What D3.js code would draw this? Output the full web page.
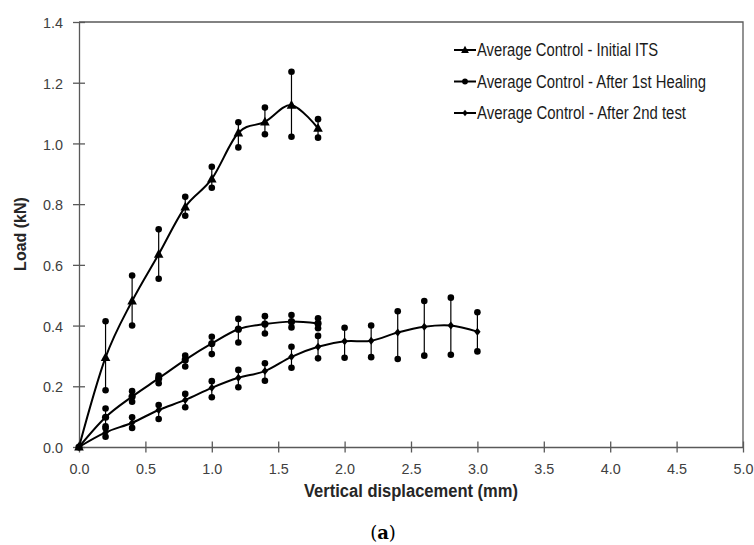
<!DOCTYPE html>
<html>
<head>
<meta charset="utf-8">
<script src="https://cdn.jsdelivr.net/npm/d3@7"></script>
<style>
  html, body { margin: 0; padding: 0; background: #fff; }
  svg { display: block; }
</style>
</head>
<body>
<svg id="chart" width="754" height="545"></svg>
<script>
// ---------- data ----------
const xTicks = [0, 0.5, 1.0, 1.5, 2.0, 2.5, 3.0, 3.5, 4.0, 4.5, 5.0];
const yTicks = [0, 0.2, 0.4, 0.6, 0.8, 1.0, 1.2, 1.4];

const dispShort = [0, 0.2, 0.4, 0.6, 0.8, 1.0, 1.2, 1.4, 1.6, 1.8];
const dispLong  = [0, 0.2, 0.4, 0.6, 0.8, 1.0, 1.2, 1.4, 1.6, 1.8, 2.0, 2.2, 2.4, 2.6, 2.8, 3.0];

const initialMean  = [0, 0.295, 0.481, 0.635, 0.791, 0.883, 1.035, 1.071, 1.126, 1.050];
const initialUpper = [0, 0.414, 0.565, 0.717, 0.824, 0.923, 1.070, 1.118, 1.236, 1.080];
const initialLower = [0, 0.187, 0.400, 0.554, 0.762, 0.854, 0.987, 1.030, 1.022, 1.019];

const healingMean  = [0, 0.098, 0.166, 0.226, 0.287, 0.341, 0.388, 0.405, 0.413, 0.407];
const healingUpper = [0, 0.127, 0.184, 0.235, 0.301, 0.363, 0.422, 0.431, 0.435, 0.424];
const healingLower = [0, 0.068, 0.149, 0.210, 0.265, 0.306, 0.344, 0.374, 0.394, 0.391];

const secondMean  = [0, 0.048, 0.080, 0.122, 0.155, 0.195, 0.228, 0.250, 0.297, 0.330, 0.348, 0.350, 0.377, 0.396, 0.400, 0.380];
const secondUpper = [0, 0.062, 0.098, 0.138, 0.175, 0.217, 0.254, 0.276, 0.330, 0.366, 0.393, 0.400, 0.447, 0.481, 0.492, 0.444];
const secondLower = [0, 0.034, 0.063, 0.092, 0.131, 0.164, 0.197, 0.218, 0.261, 0.292, 0.294, 0.296, 0.290, 0.301, 0.304, 0.315];

const seriesNames = [
  "Average Control - Initial ITS",
  "Average Control - After 1st Healing",
  "Average Control - After 2nd test"
];

// ---------- build series ----------
function build(xs, m, u, l) {
  return xs.map((x, i) => ({ x: x, y: m[i], hi: u[i], lo: l[i] }));
}
const series = [
  { name: seriesNames[0], marker: "triangle", data: build(dispShort, initialMean, initialUpper, initialLower), legW: 181 },
  { name: seriesNames[1], marker: "circle",   data: build(dispShort, healingMean, healingUpper, healingLower), legW: 229 },
  { name: seriesNames[2], marker: "diamond",  data: build(dispLong, secondMean, secondUpper, secondLower),     legW: 209 }
];

// ---------- layout ----------
const svg = d3.select("#chart");
const L = 79, R = 743, T = 22, B = 447;
const x = d3.scaleLinear().domain([0, 5]).range([L, R]);
const y = d3.scaleLinear().domain([0, 1.4]).range([B, T]);
const axisColor = "#595959";
const tickFont = "'Liberation Sans', Arial, sans-serif";

// frame (top and right)
svg.append("path")
  .attr("d", `M${L},${T}H${R}V${B}`)
  .attr("fill", "none").attr("stroke", axisColor).attr("stroke-width", 1.3);

// x axis
const gx = svg.append("g").attr("transform", `translate(0,${B})`)
  .call(d3.axisBottom(x).tickValues(xTicks).tickFormat(d3.format(".1f")).tickSize(5.5).tickSizeOuter(0));
gx.select(".domain").attr("stroke", axisColor).attr("stroke-width", 1.3);
gx.selectAll(".tick line").attr("y1", -5.5).attr("stroke", axisColor).attr("stroke-width", 1.3);
gx.selectAll(".tick text")
  .attr("y", 27).attr("dy", 0)
  .attr("font-family", tickFont).attr("font-size", 15.5).attr("fill", "#404040")
  .attr("textLength", 20).attr("lengthAdjust", "spacingAndGlyphs");

// y axis
const gy = svg.append("g").attr("transform", `translate(${L},0)`)
  .call(d3.axisLeft(y).tickValues(yTicks).tickFormat(d3.format(".1f")).tickSize(6).tickSizeOuter(0));
gy.select(".domain").attr("stroke", axisColor).attr("stroke-width", 1.3);
gy.selectAll(".tick line").attr("x1", 6).attr("x2", -6).attr("stroke", axisColor).attr("stroke-width", 1.3);
gy.selectAll(".tick text")
  .attr("x", -16).attr("dy", "0.36em")
  .attr("font-family", tickFont).attr("font-size", 15.5).attr("fill", "#404040")
  .attr("textLength", 20).attr("lengthAdjust", "spacingAndGlyphs");

// axis titles
svg.append("text")
  .attr("x", 411).attr("y", 497).attr("text-anchor", "middle")
  .attr("font-family", tickFont).attr("font-weight", "bold").attr("font-size", 17.5)
  .attr("fill", "#262626")
  .attr("textLength", 214).attr("lengthAdjust", "spacingAndGlyphs")
  .text("Vertical displacement (mm)");

svg.append("text")
  .attr("transform", "translate(26,234) rotate(-90)")
  .attr("text-anchor", "middle")
  .attr("font-family", tickFont).attr("font-weight", "bold").attr("font-size", 16)
  .attr("fill", "#262626")
  .text("Load (kN)");

// caption (a)
const cap = svg.append("text")
  .attr("x", 383).attr("y", 539).attr("text-anchor", "middle")
  .attr("font-family", "'DejaVu Serif', 'Liberation Serif', serif").attr("font-size", 18)
  .attr("fill", "#000");
cap.append("tspan").text("(");
cap.append("tspan").attr("font-weight", "bold").text("a");
cap.append("tspan").text(")");

// ---------- marks ----------
const line = d3.line().x(d => x(d.x)).y(d => y(d.y)).curve(d3.curveCardinal.tension(0));

function drawMarker(g, type, cx, cy, s) {
  if (type === "triangle") {
    const h = s * 1.0;
    g.append("path")
      .attr("d", `M${cx},${cy - h * 0.65}L${cx + h * 0.6},${cy + h * 0.45}L${cx - h * 0.6},${cy + h * 0.45}Z`)
      .attr("fill", "#000");
  } else if (type === "circle") {
    g.append("circle").attr("cx", cx).attr("cy", cy).attr("r", s * 0.45).attr("fill", "#000");
  } else {
    const h = s * 0.5;
    g.append("path")
      .attr("d", `M${cx},${cy - h}L${cx + h * 0.8},${cy}L${cx},${cy + h}L${cx - h * 0.8},${cy}Z`)
      .attr("fill", "#000");
  }
}

series.forEach(s => {
  const g = svg.append("g");
  // error bars
  s.data.filter(d => d.x > 0).forEach(d => {
    g.append("line")
      .attr("x1", x(d.x)).attr("x2", x(d.x))
      .attr("y1", y(d.lo)).attr("y2", y(d.hi))
      .attr("stroke", "#000").attr("stroke-width", 1.2);
    [d.lo, d.hi].forEach(v => {
      g.append("circle").attr("cx", x(d.x)).attr("cy", y(v)).attr("r", 3.3).attr("fill", "#000");
    });
  });
  // curve
  g.append("path").datum(s.data).attr("d", line)
    .attr("fill", "none").attr("stroke", "#000").attr("stroke-width", 2);
  // markers
  s.data.forEach(d => drawMarker(g, s.marker, x(d.x), y(d.y), 8));
});

// ---------- legend ----------
const legY = [50, 81.5, 113];
series.forEach((s, i) => {
  const g = svg.append("g");
  g.append("line").attr("x1", 454).attr("x2", 476).attr("y1", legY[i]).attr("y2", legY[i])
    .attr("stroke", "#000").attr("stroke-width", 2);
  drawMarker(g, s.marker, 465, legY[i], 6.5);
  g.append("text")
    .attr("x", 477).attr("y", legY[i] + 6.3)
    .attr("font-family", tickFont).attr("font-size", 17.5).attr("fill", "#1a1a1a")
    .attr("textLength", s.legW).attr("lengthAdjust", "spacingAndGlyphs")
    .text(s.name);
});
</script>
</body>
</html>
